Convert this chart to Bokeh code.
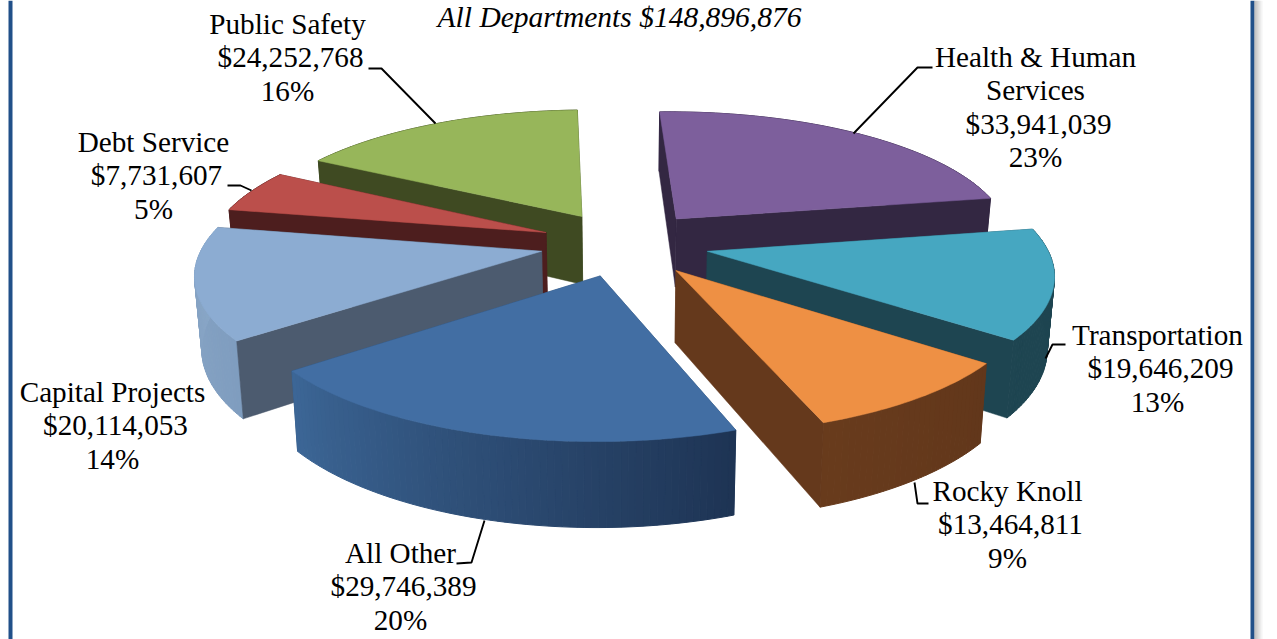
import math
import numpy as np
from bokeh.plotting import figure
from bokeh.models import ColumnDataSource
from bokeh.core.properties import value
from bokeh.embed import file_html
from bokeh.resources import INLINE

# ---- data -------------------------------------------------------------
names = ["Health & Human\nServices", "Transportation", "Rocky Knoll", "All Other",
         "Capital Projects", "Debt Service", "Public Safety"]
amounts = [33941039, 19646209, 13464811, 29746389, 20114053, 7731607, 24252768]
title_text = "All Departments $148,896,876"

# ---- styles -----------------------------------------------------------
top_colors = ["#7d5f9c", "#46a7c1", "#ee9044", "#426ea3", "#8cacd2", "#bb4f4b", "#97b65a"]
face_colors = ["#332742", "#1e4551", "#65391c", "#2b4a70", "#4c5b6f", "#4d1e1e", "#3f4a22"]
wall_from = ["#3a2d4c", "#1e4551", "#62371b", "#1e3454", "#7f9dbf", "#4d1e1e", "#3f4a22"]
wall_to = ["#332742", "#1e4551", "#683b1c", "#3c6696", "#8ba8c8", "#4d1e1e", "#3f4a22"]
paint_order = [6, 0, 5, 1, 4, 2, 3]

# ---- layout -----------------------------------------------------------
W, H = 1277, 639
CX, CY = 624, 243      # pie centre on the page
A, B = 338, 130        # radius across / along the tilt
K = 0.15               # perspective strength
EXPLODE = 0.25         # radial offset of every slice
DEPTH = 70             # extrusion height
SHRINK = 0.983         # lower rim narrows towards the centre
ROT = -2.0             # angle of the first slice's start, degrees

label_pos = [(1035, 56), (1157, 334), (1007, 490), (400, 552), (112, 391), (153, 141), (287, 23)]
LINE_H = 33.5
AMOUNT_DX = 3
FONT_SIZE = "29.2px"
FONT = "Liberation Serif"
leaders = [
    ([932, 917, 853], [67, 67, 133]),
    ([1065, 1052, 1045], [344, 344, 358]),
    ([914, 917, 928], [482, 503, 503]),
    ([456, 471, 484], [563, 562, 520]),
    ([227, 240, 251], [185, 185, 190]),
    ([368, 381, 435], [68, 68, 123]),
]


def project(u, v, lower=False):
    s = 1.0 / (1.0 + K * v)
    x = A * u * s
    y = B * v * s
    if lower:
        return CX + x * SHRINK, CY - y + DEPTH * s
    return CX + x, CY - y


def lerp_color(c1, c2, t):
    a = [int(c1[i:i + 2], 16) for i in (1, 3, 5)]
    b = [int(c2[i:i + 2], 16) for i in (1, 3, 5)]
    return "#%02x%02x%02x" % tuple(int(round(p + (q - p) * t)) for p, q in zip(a, b))


p = figure(width=W, height=H, x_range=(0, W), y_range=(H, 0), output_backend="svg",
           toolbar_location=None, min_border=0, outline_line_color=None,
           background_fill_color="white", border_fill_color="white")
p.axis.visible = False
p.grid.visible = False

# frame
p.quad(left=[8], right=[12], top=[0], bottom=[H], fill_color="#215089", line_color=None)
p.quad(left=[1250], right=[1254], top=[0], bottom=[H], fill_color="#215089", line_color=None)
for i in range(8):
    g = int(170 + 85 * i / 8)
    p.quad(left=[1254 + i], right=[1255 + i], top=[0], bottom=[H],
           fill_color="#%02x%02x%02x" % (g, g, g), line_color=None)

# pie
total = sum(amounts)
angles = [ROT]
for a in amounts:
    angles.append(angles[-1] + 360.0 * a / total)

for idx in paint_order:
    a0, a1 = math.radians(angles[idx]), math.radians(angles[idx + 1])
    mid = (a0 + a1) / 2
    ou, ov = EXPLODE * math.sin(mid), EXPLODE * math.cos(mid)
    th = np.linspace(a0, a1, max(int(angles[idx + 1] - angles[idx]), 8))
    upper = [project(ou + math.sin(t), ov + math.cos(t)) for t in th]
    lower = [project(ou + math.sin(t), ov + math.cos(t), True) for t in th]
    apex_up = project(ou, ov)
    apex_lo = project(ou, ov, True)

    def face(i):
        xs = [apex_up[0], upper[i][0], lower[i][0], apex_lo[0]]
        ys = [apex_up[1], upper[i][1], lower[i][1], apex_lo[1]]
        p.patch(xs, ys, fill_color=face_colors[idx], line_color=face_colors[idx], line_width=0.5)

    # cut faces turned away from the viewer come first
    start_front = math.cos(a0 - math.pi / 2) < 0
    end_front = math.cos(a1 + math.pi / 2) < 0
    if not start_front:
        face(0)
    if not end_front:
        face(-1)
    # outer wall with its gradient
    n = len(th) - 1
    for j in range(n):
        c = lerp_color(wall_from[idx], wall_to[idx], j / max(n - 1, 1))
        xs = [upper[j][0], upper[j + 1][0], lower[j + 1][0], lower[j][0]]
        ys = [upper[j][1], upper[j + 1][1], lower[j + 1][1], lower[j][1]]
        p.patch(xs, ys, fill_color=c, line_color=c, line_width=1)
    if start_front:
        face(0)
    if end_front:
        face(-1)
    # top
    p.patch([apex_up[0]] + [q[0] for q in upper], [apex_up[1]] + [q[1] for q in upper],
            fill_color=top_colors[idx], line_color=top_colors[idx], line_width=0.5)

# leaders
for xs, ys in leaders:
    p.line(xs, ys, line_color="black", line_width=1.9)

# labels
tx, ty, tt = [], [], []
for name, amt, (x, y) in zip(names, amounts, label_pos):
    parts = name.split("\n")
    lines = [(t, 0) for t in parts] + [("${:,}".format(amt), AMOUNT_DX), ("{:.0f}%".format(100 * amt / total), 0)]
    for i, (line, dx) in enumerate(lines):
        tx.append(x + dx)
        ty.append(y + i * LINE_H)
        tt.append(line)
p.text(x="x", y="y", text="t", source=ColumnDataSource(dict(x=tx, y=ty, t=tt)),
       text_font=value(FONT), text_font_size=value(FONT_SIZE), text_color="black",
       text_align="center", text_baseline="middle")
p.text(x=[619], y=[16], text=[title_text], text_font=value(FONT), text_font_size=value("29.5px"),
       text_font_style="italic", text_color="black", text_align="center", text_baseline="middle")

open("out.html", "w").write(file_html(p, INLINE))
